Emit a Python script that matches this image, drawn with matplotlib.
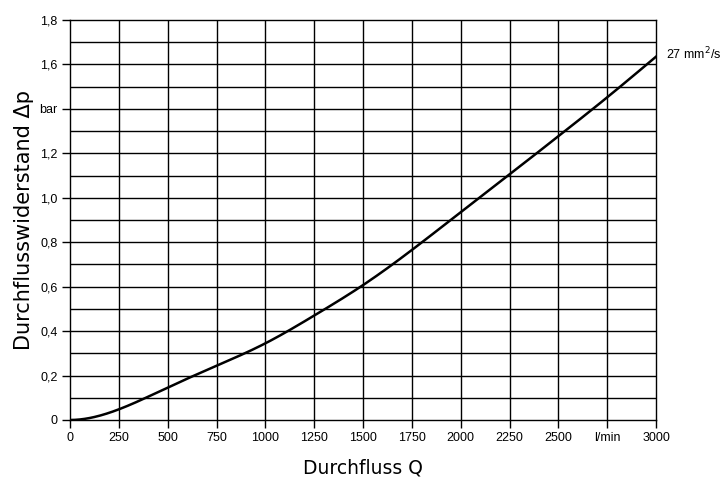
import numpy as np
import matplotlib.pyplot as plt

# flow resistance curve, 27 mm^2/s
flow = [0, 250, 500, 750, 1000, 1250, 1500, 1750, 2000, 2250, 2500, 2750, 3000]
dp = [0, 0.048, 0.146, 0.244, 0.345, 0.470, 0.607, 0.765, 0.935, 1.105, 1.277, 1.452, 1.635]

x_ticks = [0, 250, 500, 750, 1000, 1250, 1500, 1750, 2000, 2250, 2500, 2750, 3000]
x_labels = ["0", "250", "500", "750", "1000", "1250", "1500", "1750", "2000", "2250", "2500", "l/min", "3000"]
y_ticks = [0, 0.2, 0.4, 0.6, 0.8, 1.0, 1.2, 1.4, 1.6, 1.8]
y_labels = ["0", "0,2", "0,4", "0,6", "0,8", "1,0", "1,2", "bar", "1,6", "1,8"]


def spline(x, y, n=40):
    """Cubic spline, zero slope at start, natural at end (drawing only)."""
    x = np.asarray(x, float)
    y = np.asarray(y, float)
    k = len(x)
    h = np.diff(x)
    A = np.zeros((k, k))
    b = np.zeros(k)
    # clamped start, slope 0
    A[0, 0] = 2 * h[0]
    A[0, 1] = h[0]
    b[0] = 6 * ((y[1] - y[0]) / h[0] - 0.0)
    for i in range(1, k - 1):
        A[i, i - 1] = h[i - 1]
        A[i, i] = 2 * (h[i - 1] + h[i])
        A[i, i + 1] = h[i]
        b[i] = 6 * ((y[i + 1] - y[i]) / h[i] - (y[i] - y[i - 1]) / h[i - 1])
    A[-1, -1] = 1.0
    M = np.linalg.solve(A, b)
    xs, ys = [], []
    for i in range(k - 1):
        t = np.linspace(x[i], x[i + 1], n, endpoint=False)
        a = x[i + 1] - t
        c = t - x[i]
        s = (M[i] * a**3 + M[i + 1] * c**3) / (6 * h[i]) \
            + (y[i] / h[i] - M[i] * h[i] / 6) * a \
            + (y[i + 1] / h[i] - M[i + 1] * h[i] / 6) * c
        xs.append(t)
        ys.append(s)
    xs.append([x[-1]])
    ys.append([y[-1]])
    return np.concatenate(xs), np.concatenate(ys)


plt.rcParams["font.family"] = ["Liberation Sans", "DejaVu Sans"]

fig = plt.figure(figsize=(7.28, 4.79), dpi=100)
ax = fig.add_axes([0.0962, 0.1232, 0.8049, 0.835])

xs, ys = spline(flow, dp)
ax.plot(xs, ys, color="black", lw=1.8, zorder=3)

ax.set_xlim(0, 3000)
ax.set_ylim(0, 1.8)

for v in np.arange(250, 3000, 250):
    ax.axvline(v, color="black", lw=1.0, zorder=1)
for v in np.arange(0.1, 1.8, 0.1):
    ax.axhline(v, color="black", lw=1.0, zorder=1)

for s in ax.spines.values():
    s.set_linewidth(1.0)

ax.set_xticks(x_ticks)
ax.set_xticklabels(x_labels, fontsize=9)
ax.set_yticks(y_ticks)
ax.set_yticklabels(y_labels, fontsize=9)
ax.tick_params(axis="both", length=6, width=1.0, direction="out")
ax.tick_params(axis="x", pad=3)
ax.tick_params(axis="y", pad=3)

ax.set_xlabel("Durchfluss Q", fontsize=13.5, family=["DejaVu Sans"], labelpad=10)
ax.set_ylabel("Durchflusswiderstand Δp", fontsize=15, family=["DejaVu Sans"])
ax.yaxis.set_label_coords(-0.062, 0.5)

ax.annotate("27 mm$^2$/s", xy=(3000, dp[-1]), xytext=(7, 2), textcoords="offset points",
            fontsize=9, ha="left", va="center", annotation_clip=False)

fig.savefig("out.png", dpi=100)
